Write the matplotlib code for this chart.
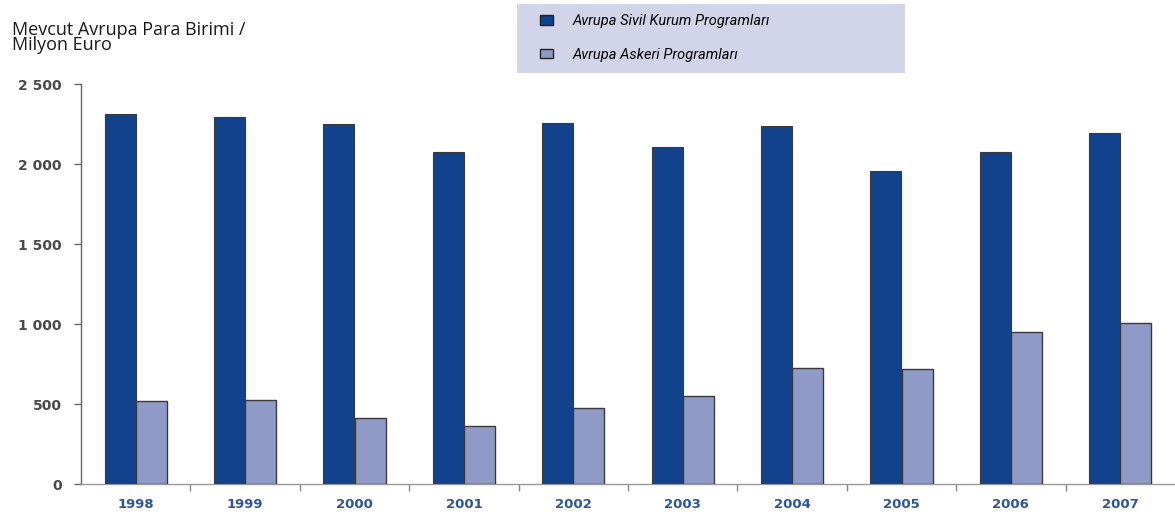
import matplotlib
matplotlib.use("Agg")
import matplotlib.pyplot as plt
from matplotlib.patches import Rectangle, Patch
from matplotlib.ticker import FixedLocator, FuncFormatter
import numpy as np

years = ["1998", "1999", "2000", "2001", "2002", "2003", "2004", "2005", "2006", "2007"]
civil = [2315, 2295, 2252, 2077, 2254, 2104, 2240, 1957, 2072, 2193]
military = [516, 522, 410, 364, 478, 553, 728, 717, 953, 1004]
series_names = ["Avrupa Sivil Kurum Programları", "Avrupa Askeri Programları"]
y_ticks = [0, 500, 1000, 1500, 2000, 2500]

dark_blue = "#12428c"
light_blue = "#8f9ac6"
edge = "#3a3a3a"

fig = plt.figure(figsize=(11.75, 5.2), dpi=100)
ax = fig.add_axes([81 / 1175, 36 / 520, 1 - 81 / 1175, 400 / 520])

x = np.arange(len(years))
w = 0.285
ax.bar(x - w / 2, civil, width=w, color=dark_blue, edgecolor=edge, linewidth=0.8, zorder=3)
ax.bar(x + w / 2, military, width=w, color=light_blue, edgecolor=edge, linewidth=1.0, zorder=3)

ax.set_xlim(-0.5, len(years) - 0.5)
ax.set_ylim(0, 2500)

for side in ("top", "right"):
    ax.spines[side].set_visible(False)
ax.spines["left"].set_color("#666666")
ax.spines["left"].set_linewidth(1.0)
ax.spines["bottom"].set_color("#999999")
ax.spines["bottom"].set_linewidth(1.0)

ax.yaxis.set_major_locator(FixedLocator(y_ticks))
ax.yaxis.set_major_formatter(FuncFormatter(lambda v, p: f"{int(v):,}".replace(",", " ")))
ax.tick_params(axis="y", length=5, width=1.0, color="#666666", pad=9,
               labelsize=10, labelcolor="#4a4a4a")
for lbl in ax.get_yticklabels():
    lbl.set_fontweight("bold")

ax.set_xticks(x)
ax.set_xticklabels(years, fontweight="bold", fontsize=9.5, color="#2f5597")
ax.tick_params(axis="x", which="major", length=0, pad=10)
ax.set_xticks(np.arange(0.5, len(years) - 0.5, 1.0), minor=True)
ax.tick_params(axis="x", which="minor", length=5, width=1.0, color="#888888")

# Axis caption
fig.text(12 / 1175, 1 - 21 / 520, "Mevcut Avrupa Para Birimi /\nMilyon Euro",
         ha="left", va="top", fontsize=13, family="Open Sans", color="#1a1a1a",
         linespacing=0.78)

# Legend panel
fig.patches.append(Rectangle((517 / 1175, 1 - 73 / 520), 388 / 1175, 69 / 520,
                             transform=fig.transFigure, facecolor="#d2d5e9",
                             edgecolor="none", zorder=0))
handles = [Patch(facecolor=dark_blue, edgecolor="#222222", linewidth=1.0),
           Patch(facecolor=light_blue, edgecolor="#222222", linewidth=1.0)]
leg = fig.legend(handles, series_names, loc="upper left",
                 bbox_to_anchor=(527 / 1175, 1 - 1 / 520), frameon=False,
                 prop={"family": ["Roboto", "DejaVu Sans"],
                       "style": "italic", "size": 10.5},
                 handlelength=0.85, handleheight=0.6, handletextpad=1.4,
                 labelspacing=1.35)

fig.savefig("out.png", dpi=100)
